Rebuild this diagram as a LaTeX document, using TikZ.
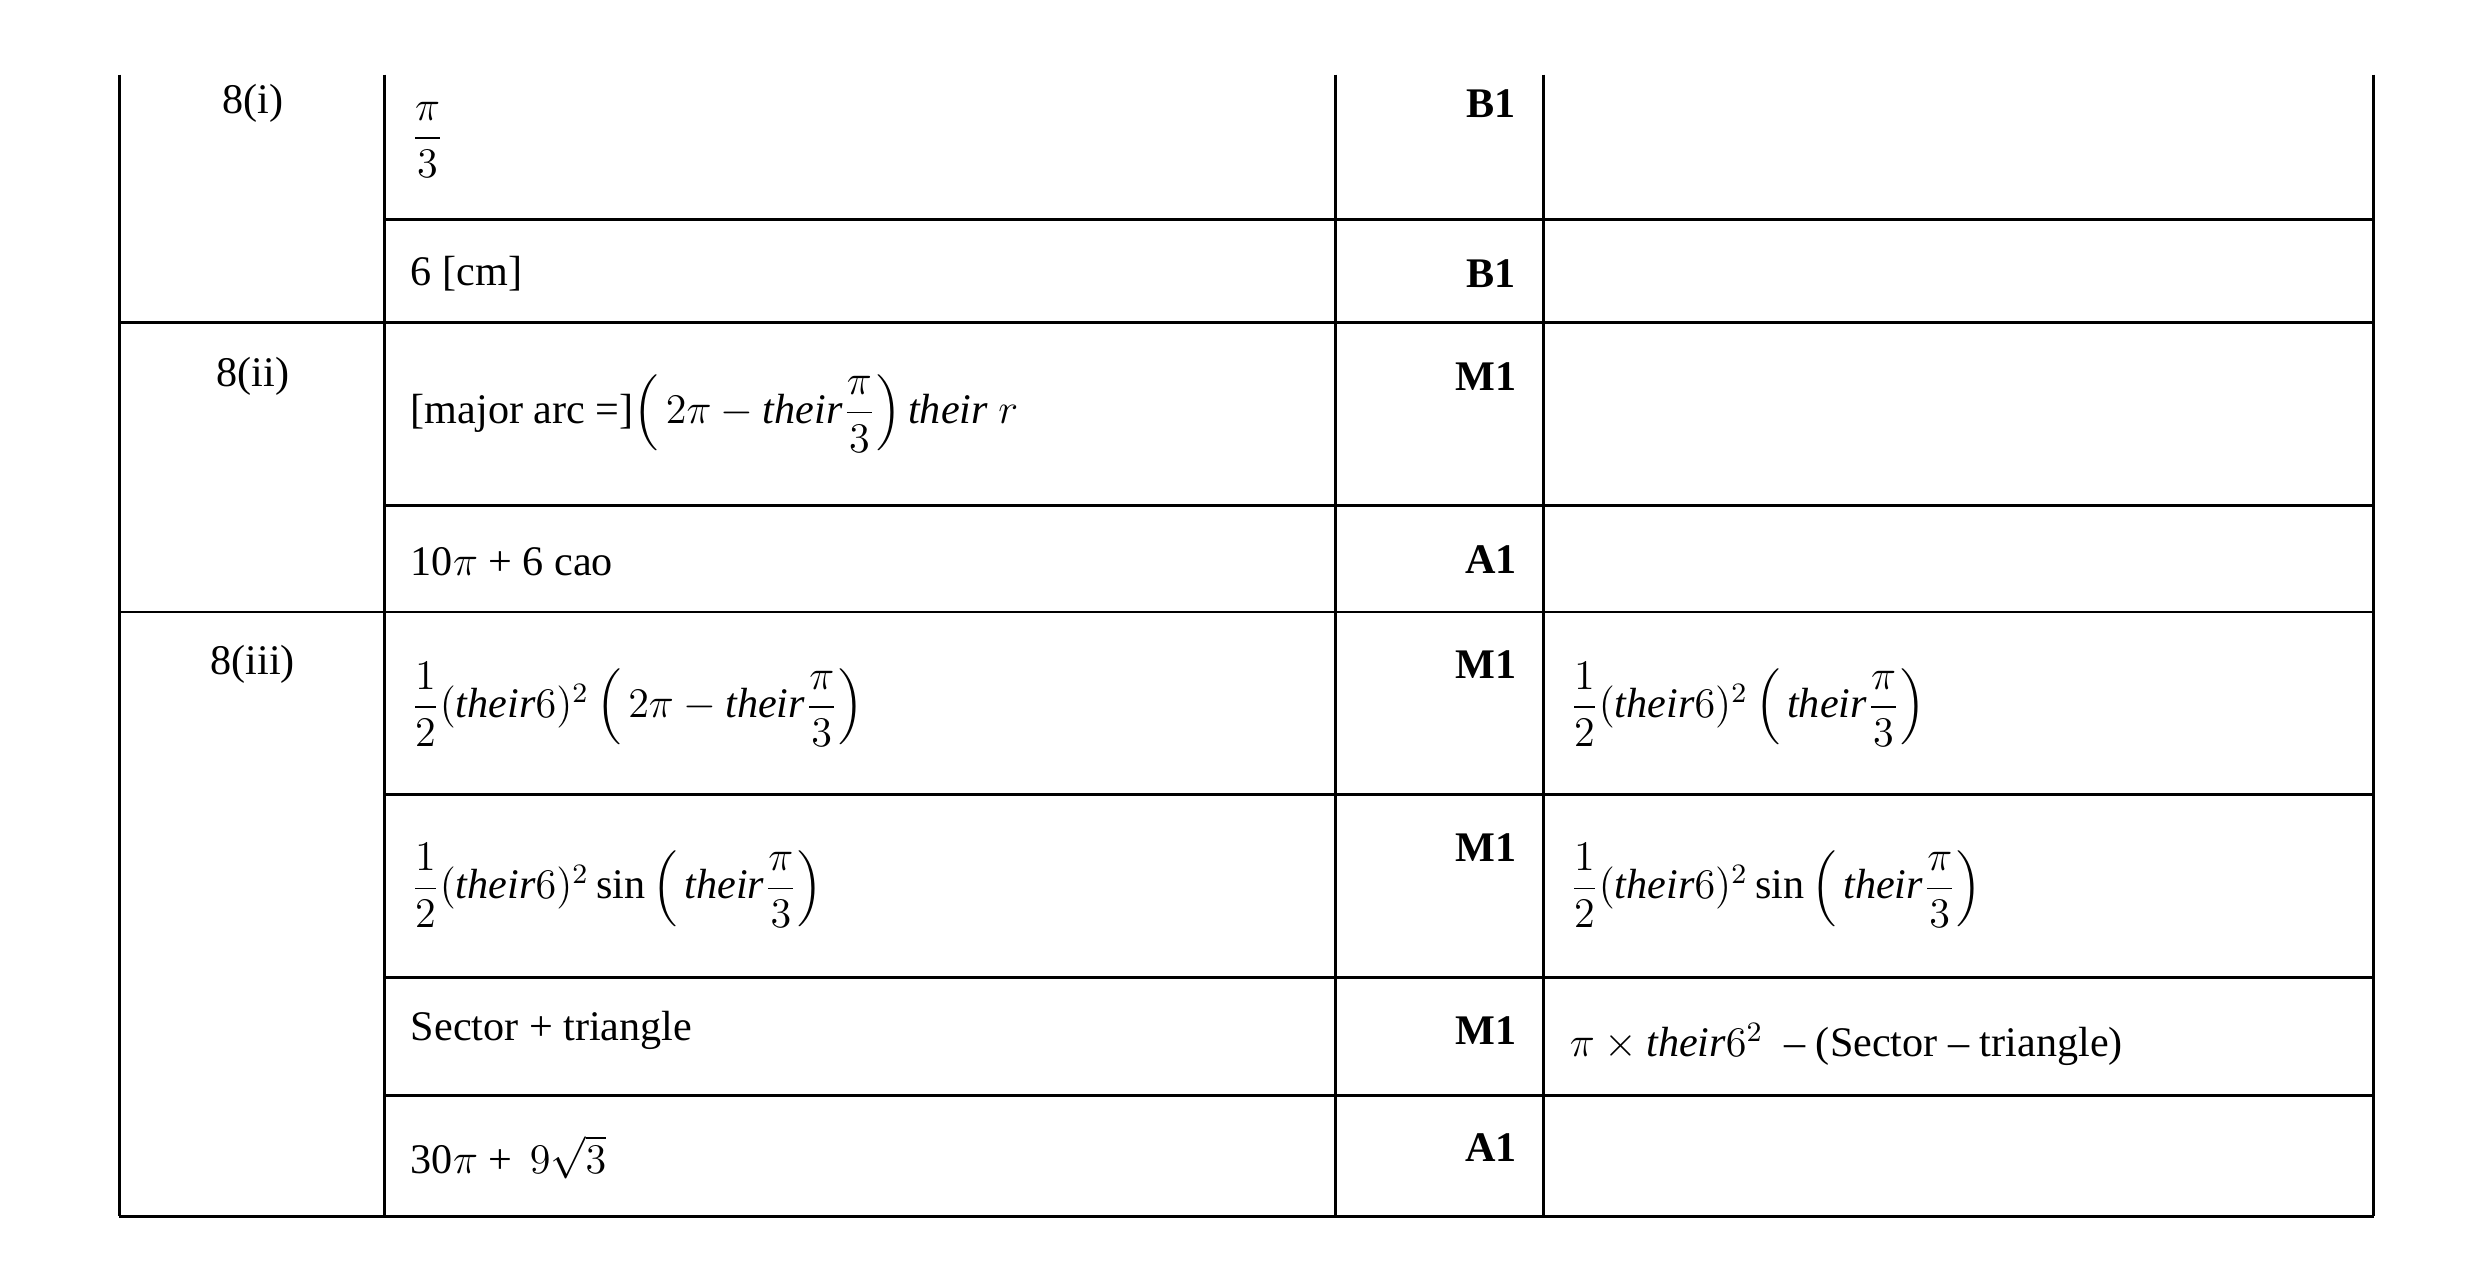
\documentclass[tikz,border=0pt]{standalone}
\usepackage{amsmath}
\usepackage{fontspec}
\setmainfont{Liberation Serif}
\usetikzlibrary{positioning}
\tikzset{
x=0.0159cm, y=-0.0159cm,
grid/.style={line width=0.8pt},
cell/.style={anchor=west, inner sep=0pt, font=\fontsize{12}{14}\selectfont},
qno/.style={inner sep=0pt, font=\fontsize{12}{14}\selectfont},
mk/.style={inner sep=0pt, font=\fontsize{12}{14}\selectfont\bfseries},
}
\newcommand{\thr}{\mathit{their}}
\begin{document}
\begin{tikzpicture}
\useasboundingbox (0,0) rectangle (1560,810);
% grid
\foreach \x in {75,242,840,971,1493} \draw[grid] (\x,47) -- (\x,765);
\foreach \y in {138,318,500,615,689} \draw[grid] (242,\y) -- (1493,\y);
\foreach \y in {203,385,765} \draw[grid] (75,\y) -- (1493,\y);
% question numbers
\node[qno] (q1) at (159,65) {8(i)};
\node[qno] (q2) at (159,237) {8(ii)};
\node[qno] (q3) at (159,418) {8(iii)};
% answers
\node[cell] (a1) at (258,88) {$\dfrac{\pi}{3}$};
\node[cell] (a2) at (258,172) {6 [cm]};
\node[cell] (a3) at (258,260) {[major arc =]$\left(\,2\pi-\thr\dfrac{\pi}{3}\right)\thr\ r$};
\node[cell] (a4) at (258,353) {10$\pi$ + 6 cao};
\node[cell] (a5) at (258,443) {$\dfrac{1}{2}(\thr 6)^2\left(\,2\pi-\thr\dfrac{\pi}{3}\right)$};
\node[cell] (a6) at (258,557) {$\dfrac{1}{2}(\thr 6)^2\,\mathrm{sin}\left(\,\thr\dfrac{\pi}{3}\right)$};
\node[cell] (a7) at (258,648) {Sector + triangle};
\node[cell] (a8) at (258,728) {30$\pi$ + \,$9\sqrt{3}$};
% marks
\node[mk] (m1) at (938,65) {B1};
\node[mk] (m2) at (938,172) {B1};
\node[mk] (m3) at (935,237) {M1};
\node[mk] (m4) at (938,352) {A1};
\node[mk] (m5) at (935,418) {M1};
\node[mk] (m6) at (935,533) {M1};
\node[mk] (m7) at (935,648) {M1};
\node[mk] (m8) at (938,722) {A1};
% guidance
\node[cell] (g5) at (987,443) {$\dfrac{1}{2}(\thr 6)^2\left(\,\thr\dfrac{\pi}{3}\right)$};
\node[cell] (g6) at (987,557) {$\dfrac{1}{2}(\thr 6)^2\,\mathrm{sin}\left(\,\thr\dfrac{\pi}{3}\right)$};
\node[cell] (g7) at (987,657) {$\pi\times\thr 6^2$ \ -- (Sector -- triangle)};
\end{tikzpicture}
\end{document}
